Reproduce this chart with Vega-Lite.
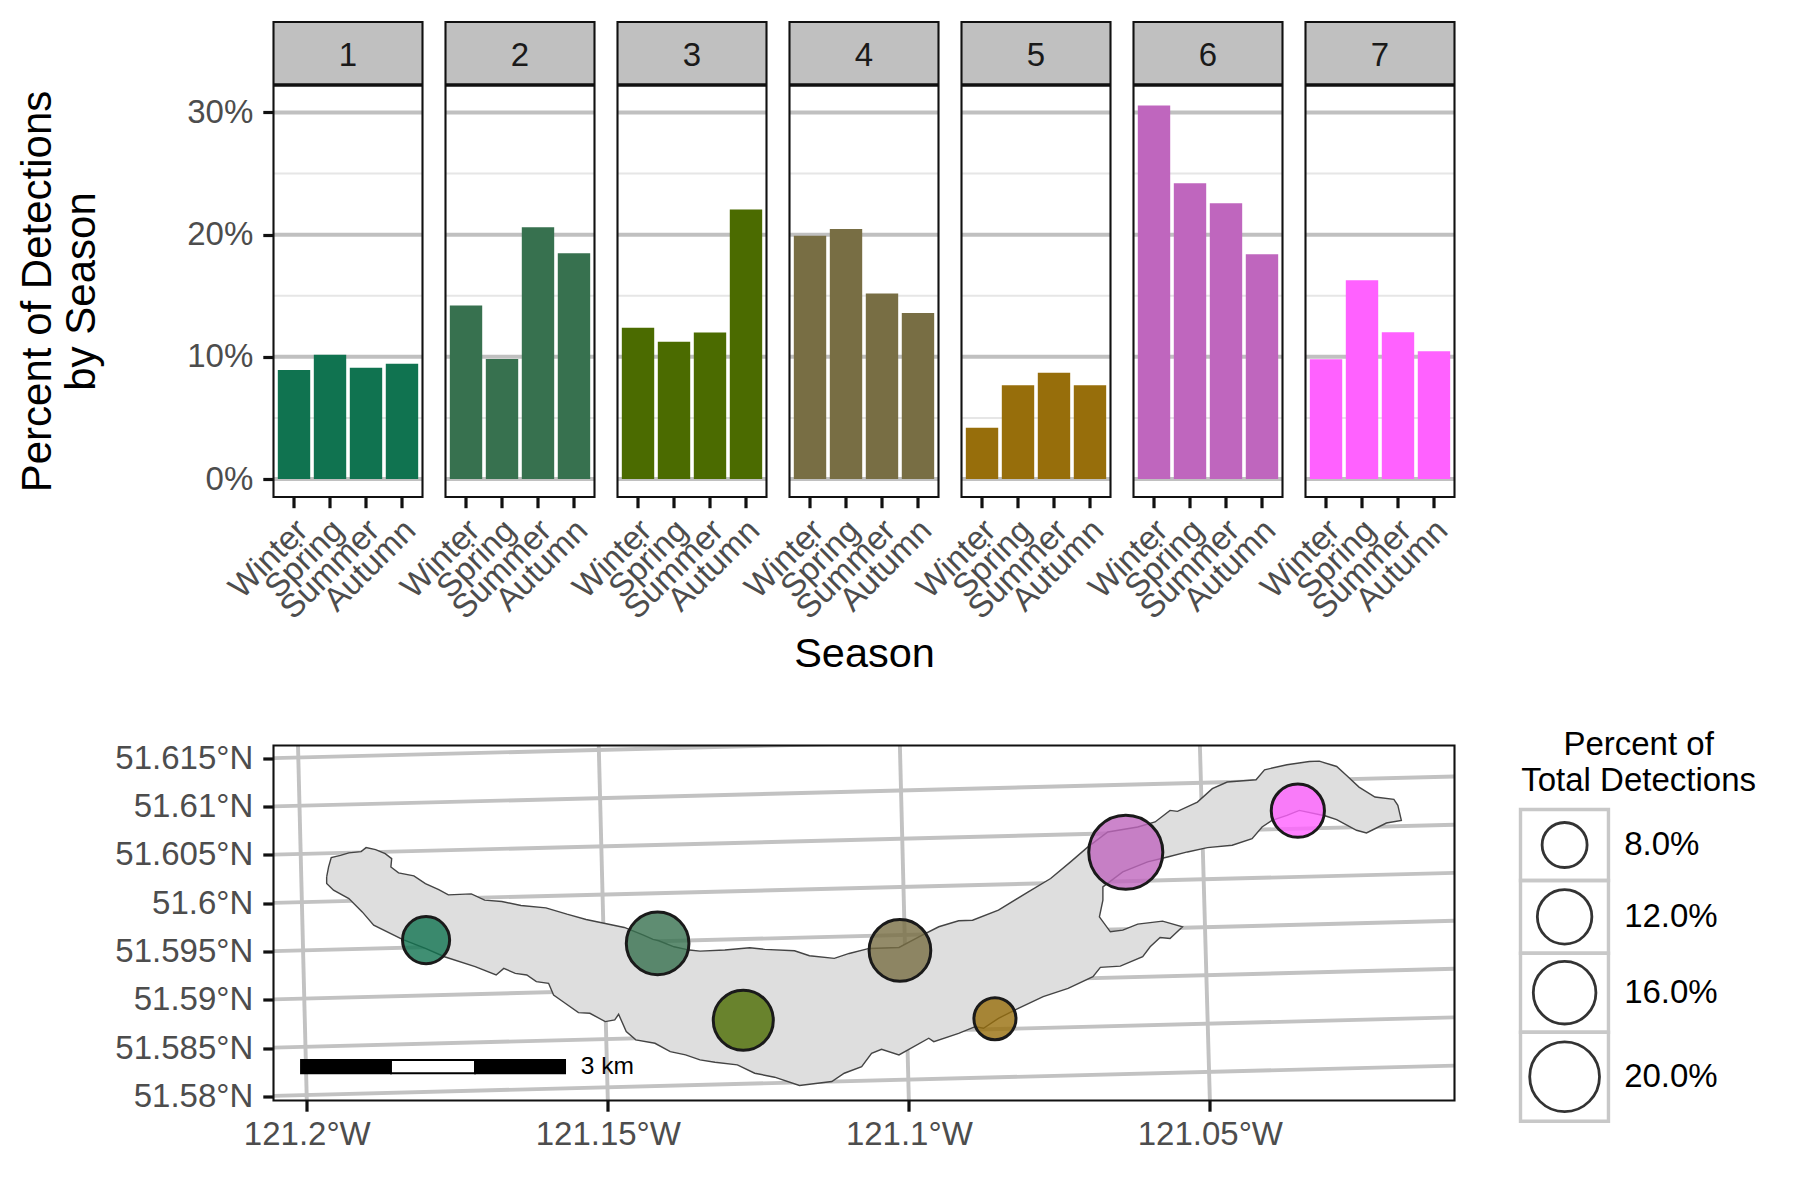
{"$schema":"https://vega.github.io/schema/vega-lite/v6.json","background":"white","padding":{"left":12.5,"top":20,"right":0,"bottom":0},"config":{"font":"Liberation Sans","view":{"stroke":null}},"datasets":{"bars":[{"panel":1,"season":"Winter","value":8.93},{"panel":1,"season":"Spring","value":10.18},{"panel":1,"season":"Summer","value":9.11},{"panel":1,"season":"Autumn","value":9.43},{"panel":2,"season":"Winter","value":14.2},{"panel":2,"season":"Spring","value":9.82},{"panel":2,"season":"Summer","value":20.6},{"panel":2,"season":"Autumn","value":18.47},{"panel":3,"season":"Winter","value":12.37},{"panel":3,"season":"Spring","value":11.24},{"panel":3,"season":"Summer","value":11.99},{"panel":3,"season":"Autumn","value":22.06},{"panel":4,"season":"Winter","value":19.9},{"panel":4,"season":"Spring","value":20.46},{"panel":4,"season":"Summer","value":15.19},{"panel":4,"season":"Autumn","value":13.59},{"panel":5,"season":"Winter","value":4.19},{"panel":5,"season":"Spring","value":7.67},{"panel":5,"season":"Summer","value":8.7},{"panel":5,"season":"Autumn","value":7.67},{"panel":6,"season":"Winter","value":30.57},{"panel":6,"season":"Spring","value":24.2},{"panel":6,"season":"Summer","value":22.56},{"panel":6,"season":"Autumn","value":18.39},{"panel":7,"season":"Winter","value":9.81},{"panel":7,"season":"Spring","value":16.27},{"panel":7,"season":"Summer","value":12.02},{"panel":7,"season":"Autumn","value":10.46}],"stations":[{"panel":1,"lon":-121.18019,"lat":51.59618,"pct":8.83},{"panel":2,"lon":-121.14173,"lat":51.59584,"pct":16.0},{"panel":3,"lon":-121.1275,"lat":51.58789,"pct":14.67},{"panel":4,"lon":-121.10148,"lat":51.59511,"pct":15.5},{"panel":5,"lon":-121.0857,"lat":51.58805,"pct":6.93},{"panel":6,"lon":-121.06397,"lat":51.60526,"pct":22.6},{"panel":7,"lon":-121.03539,"lat":51.60957,"pct":11.4}],"graticule":[{"line":"p615","lon":-121.20553,"lat":51.615},{"line":"p615","lon":-121.00937,"lat":51.6181},{"line":"p610","lon":-121.20553,"lat":51.61001},{"line":"p610","lon":-121.00937,"lat":51.61311},{"line":"p605","lon":-121.20553,"lat":51.60502},{"line":"p605","lon":-121.00937,"lat":51.60812},{"line":"p600","lon":-121.20553,"lat":51.60003},{"line":"p600","lon":-121.00937,"lat":51.60313},{"line":"p595","lon":-121.20553,"lat":51.59504},{"line":"p595","lon":-121.00937,"lat":51.59818},{"line":"p590","lon":-121.20553,"lat":51.59005},{"line":"p590","lon":-121.00937,"lat":51.59322},{"line":"p585","lon":-121.20553,"lat":51.58506},{"line":"p585","lon":-121.00937,"lat":51.58819},{"line":"p580","lon":-121.20553,"lat":51.58007},{"line":"p580","lon":-121.00937,"lat":51.5832},{"line":"m200","lon":-121.20146,"lat":51.61631},{"line":"m200","lon":-121.2,"lat":51.57959},{"line":"m150","lon":-121.15151,"lat":51.61631},{"line":"m150","lon":-121.15,"lat":51.57959},{"line":"m100","lon":-121.10149,"lat":51.61631},{"line":"m100","lon":-121.1,"lat":51.57959},{"line":"m050","lon":-121.05166,"lat":51.61631},{"line":"m050","lon":-121.05,"lat":51.57959}],"lake":[{"i":0,"lon":-121.1967,"lat":51.60272},{"i":1,"lon":-121.19638,"lat":51.60375},{"i":2,"lon":-121.19594,"lat":51.60471},{"i":3,"lon":-121.19441,"lat":51.60495},{"i":4,"lon":-121.19301,"lat":51.6052},{"i":5,"lon":-121.19098,"lat":51.60533},{"i":6,"lon":-121.19015,"lat":51.60575},{"i":7,"lon":-121.18857,"lat":51.60554},{"i":8,"lon":-121.18698,"lat":51.60513},{"i":9,"lon":-121.1859,"lat":51.60461},{"i":10,"lon":-121.18603,"lat":51.60375},{"i":11,"lon":-121.18476,"lat":51.60313},{"i":12,"lon":-121.18221,"lat":51.60282},{"i":13,"lon":-121.1803,"lat":51.60203},{"i":14,"lon":-121.17808,"lat":51.60141},{"i":15,"lon":-121.17649,"lat":51.60086},{"i":16,"lon":-121.17268,"lat":51.60096},{"i":17,"lon":-121.17045,"lat":51.60031},{"i":18,"lon":-121.1676,"lat":51.60017},{"i":19,"lon":-121.16442,"lat":51.59976},{"i":20,"lon":-121.16029,"lat":51.59952},{"i":21,"lon":-121.15679,"lat":51.59886},{"i":22,"lon":-121.15361,"lat":51.59831},{"i":23,"lon":-121.15043,"lat":51.5979},{"i":24,"lon":-121.14726,"lat":51.59749},{"i":25,"lon":-121.14408,"lat":51.5967},{"i":26,"lon":-121.14249,"lat":51.59625},{"i":27,"lon":-121.14153,"lat":51.59611},{"i":28,"lon":-121.139,"lat":51.59549},{"i":29,"lon":-121.13645,"lat":51.59515},{"i":30,"lon":-121.13469,"lat":51.59504},{"i":31,"lon":-121.13056,"lat":51.59515},{"i":32,"lon":-121.12643,"lat":51.59539},{"i":33,"lon":-121.12395,"lat":51.59522},{"i":34,"lon":-121.11899,"lat":51.59508},{"i":35,"lon":-121.11651,"lat":51.59456},{"i":36,"lon":-121.11238,"lat":51.59429},{"i":37,"lon":-121.10991,"lat":51.5948},{"i":38,"lon":-121.1066,"lat":51.59532},{"i":39,"lon":-121.10164,"lat":51.59542},{"i":40,"lon":-121.09834,"lat":51.59652},{"i":41,"lon":-121.09503,"lat":51.59756},{"i":42,"lon":-121.09173,"lat":51.59818},{"i":43,"lon":-121.08942,"lat":51.59824},{"i":44,"lon":-121.08512,"lat":51.59928},{"i":45,"lon":-121.08016,"lat":51.60117},{"i":46,"lon":-121.07645,"lat":51.60255},{"i":47,"lon":-121.07314,"lat":51.60427},{"i":48,"lon":-121.07025,"lat":51.60582},{"i":49,"lon":-121.06695,"lat":51.60736},{"i":50,"lon":-121.06199,"lat":51.60788},{"i":51,"lon":-121.0591,"lat":51.6084},{"i":52,"lon":-121.05662,"lat":51.6096},{"i":53,"lon":-121.05538,"lat":51.6095},{"i":54,"lon":-121.05207,"lat":51.61046},{"i":55,"lon":-121.0496,"lat":51.61184},{"i":56,"lon":-121.04712,"lat":51.61253},{"i":57,"lon":-121.04233,"lat":51.61277},{"i":58,"lon":-121.04092,"lat":51.6138},{"i":59,"lon":-121.0372,"lat":51.61432},{"i":60,"lon":-121.03349,"lat":51.61466},{"i":61,"lon":-121.03183,"lat":51.61469},{"i":62,"lon":-121.02894,"lat":51.61414},{"i":63,"lon":-121.02729,"lat":51.61321},{"i":64,"lon":-121.02523,"lat":51.61201},{"i":65,"lon":-121.02258,"lat":51.61098},{"i":66,"lon":-121.01944,"lat":51.61074},{"i":67,"lon":-121.01878,"lat":51.61012},{"i":68,"lon":-121.0182,"lat":51.60857},{"i":69,"lon":-121.02068,"lat":51.60829},{"i":70,"lon":-121.02399,"lat":51.60726},{"i":71,"lon":-121.02564,"lat":51.60754},{"i":72,"lon":-121.02894,"lat":51.60864},{"i":73,"lon":-121.03076,"lat":51.60902},{"i":74,"lon":-121.03514,"lat":51.6096},{"i":75,"lon":-121.0372,"lat":51.60908},{"i":76,"lon":-121.03968,"lat":51.60857},{"i":77,"lon":-121.04133,"lat":51.60788},{"i":78,"lon":-121.04299,"lat":51.60668},{"i":79,"lon":-121.04629,"lat":51.60599},{"i":80,"lon":-121.05042,"lat":51.60575},{"i":81,"lon":-121.05373,"lat":51.6053},{"i":82,"lon":-121.05703,"lat":51.60478},{"i":83,"lon":-121.06034,"lat":51.60427},{"i":84,"lon":-121.06447,"lat":51.60323},{"i":85,"lon":-121.06777,"lat":51.60169},{"i":86,"lon":-121.06777,"lat":51.60031},{"i":87,"lon":-121.06835,"lat":51.59859},{"i":88,"lon":-121.06653,"lat":51.59704},{"i":89,"lon":-121.06447,"lat":51.59721},{"i":90,"lon":-121.06199,"lat":51.59783},{"i":91,"lon":-121.05786,"lat":51.59814},{"i":92,"lon":-121.05455,"lat":51.59756},{"i":93,"lon":-121.05662,"lat":51.59635},{"i":94,"lon":-121.05827,"lat":51.59645},{"i":95,"lon":-121.05992,"lat":51.59549},{"i":96,"lon":-121.06116,"lat":51.59446},{"i":97,"lon":-121.06488,"lat":51.59349},{"i":98,"lon":-121.06819,"lat":51.59336},{"i":99,"lon":-121.06942,"lat":51.59239},{"i":100,"lon":-121.07355,"lat":51.59119},{"i":101,"lon":-121.07769,"lat":51.59033},{"i":102,"lon":-121.08182,"lat":51.58912},{"i":103,"lon":-121.08512,"lat":51.58809},{"i":104,"lon":-121.0876,"lat":51.58706},{"i":105,"lon":-121.089,"lat":51.58723},{"i":106,"lon":-121.09173,"lat":51.58654},{"i":107,"lon":-121.09586,"lat":51.58568},{"i":108,"lon":-121.09669,"lat":51.58603},{"i":109,"lon":-121.10164,"lat":51.58431},{"i":110,"lon":-121.10454,"lat":51.58489},{"i":111,"lon":-121.10619,"lat":51.58448},{"i":112,"lon":-121.10784,"lat":51.5831},{"i":113,"lon":-121.11073,"lat":51.58241},{"i":114,"lon":-121.1128,"lat":51.58155},{"i":115,"lon":-121.11817,"lat":51.58114},{"i":116,"lon":-121.1223,"lat":51.582},{"i":117,"lon":-121.1256,"lat":51.58241},{"i":118,"lon":-121.12849,"lat":51.58327},{"i":119,"lon":-121.13221,"lat":51.58355},{"i":120,"lon":-121.13469,"lat":51.58379},{"i":121,"lon":-121.13709,"lat":51.58431},{"i":122,"lon":-121.13963,"lat":51.58465},{"i":123,"lon":-121.14217,"lat":51.58551},{"i":124,"lon":-121.14535,"lat":51.58586},{"i":125,"lon":-121.14694,"lat":51.58672},{"i":126,"lon":-121.14821,"lat":51.58851},{"i":127,"lon":-121.14885,"lat":51.58792},{"i":128,"lon":-121.15043,"lat":51.58775},{"i":129,"lon":-121.15298,"lat":51.58861},{"i":130,"lon":-121.15488,"lat":51.58868},{"i":131,"lon":-121.15743,"lat":51.58981},{"i":132,"lon":-121.15901,"lat":51.5905},{"i":133,"lon":-121.15984,"lat":51.59171},{"i":134,"lon":-121.16187,"lat":51.59188},{"i":135,"lon":-121.16346,"lat":51.59257},{"i":136,"lon":-121.16537,"lat":51.59274},{"i":137,"lon":-121.16728,"lat":51.59325},{"i":138,"lon":-121.16855,"lat":51.59257},{"i":139,"lon":-121.17204,"lat":51.59343},{"i":140,"lon":-121.17713,"lat":51.59446},{"i":141,"lon":-121.1803,"lat":51.59532},{"i":142,"lon":-121.18412,"lat":51.59625},{"i":143,"lon":-121.18889,"lat":51.59773},{"i":144,"lon":-121.19079,"lat":51.5991},{"i":145,"lon":-121.19301,"lat":51.60048},{"i":146,"lon":-121.19556,"lat":51.60134},{"i":147,"lon":-121.1967,"lat":51.60203},{"i":148,"lon":-121.1967,"lat":51.60272}],"scalebar":[{"seg":"a","lon0":-121.20095,"lon1":-121.18602,"lat0":51.58242,"lat1":51.58379},{"seg":"b","lon0":-121.18602,"lon1":-121.17205,"lat0":51.58242,"lat1":51.58379},{"seg":"a","lon0":-121.17205,"lon1":-121.15711,"lat0":51.58242,"lat1":51.58379}],"legendRows":[{"pct":8,"lo":6,"hi":10,"label":"8.0%"},{"pct":12,"lo":10,"hi":14,"label":"12.0%"},{"pct":16,"lo":14,"hi":18,"label":"16.0%"},{"pct":20,"lo":18,"hi":22,"label":"20.0%"}]},"spacing":52.5,"vconcat":[{"data":{"name":"bars"},"facet":{"column":{"field":"panel","type":"ordinal","header":{"title":"Season","titleOrient":"bottom","titleFontSize":41.5,"titleFontWeight":"normal","titleColor":"#000","titlePadding":-2,"labels":false}}},"spacing":23,"bounds":"flush","spec":{"width":149,"height":475,"layer":[{"data":{"values":[{"g":5},{"g":15},{"g":25}]},"mark":{"type":"rule","color":"#e6e6e6","strokeWidth":2},"encoding":{"y":{"field":"g","type":"quantitative","scale":{"domain":[-1.47,37.4],"nice":false,"zero":false}}}},{"data":{"values":[{"g":0},{"g":10},{"g":20},{"g":30}]},"mark":{"type":"rule","color":"#c0c0c0","strokeWidth":4},"encoding":{"y":{"field":"g","type":"quantitative"}}},{"mark":{"type":"bar"},"encoding":{"x":{"field":"season","type":"ordinal","sort":["Winter","Spring","Summer","Autumn"],"scale":{"paddingInner":0.1,"paddingOuter":0.12},"axis":{"title":null,"labelAngle":-45,"labelAlign":"right","labelBaseline":"top","labelFontSize":33,"labelColor":"#4d4d4d","labelPadding":6,"labelOffset":-3,"tickSize":10.7,"tickWidth":3.2,"tickColor":"#111","domain":false,"grid":false}},"y":{"field":"value","type":"quantitative","axis":{"values":[0,10,20,30],"labelExpr":"datum.value + '%'","grid":false,"domain":false,"tickSize":10.7,"tickWidth":3.2,"tickColor":"#111","labelPadding":10,"labelFontSize":33,"labelColor":"#4d4d4d","title":["Percent of Detections","by Season"],"titleFontSize":42,"titleFontWeight":"normal","titleColor":"#000","titleLineHeight":44,"titlePadding":83,"titleY":269}},"color":{"field":"panel","type":"nominal","legend":null,"scale":{"domain":[1,2,3,4,5,6,7],"range":["#107350","#37714f","#4b6b00","#786e44","#976e0b","#bf66be","#ff61ff"]}}}},{"data":{"values":[{"strip":1}]},"mark":{"type":"rect","color":"#c0c0c0"},"encoding":{"y":{"datum":37.4},"y2":{"datum":32.24}}},{"data":{"values":[{"strip":1}]},"mark":{"type":"rule","color":"#111","strokeWidth":3.5},"encoding":{"y":{"datum":32.24}}},{"mark":{"type":"text","fontSize":33,"color":"#1a1a1a"},"encoding":{"text":{"aggregate":"min","field":"panel"},"y":{"datum":34.6}}},{"data":{"values":[{"frame":1}]},"mark":{"type":"rect","fill":null,"stroke":"#111","strokeWidth":2.1},"encoding":{"y":{"datum":37.4},"y2":{"datum":-1.47}}}]}},{"spacing":62,"hconcat":[{"width":1181,"height":355,"layer":[{"data":{"name":"graticule"},"mark":{"type":"line","color":"#c2c2c2","strokeWidth":3.9,"clip":true},"encoding":{"detail":{"field":"line"},"x":{"field":"lon","type":"quantitative","scale":{"domain":[-121.20553,-121.00937],"nice":false,"zero":false},"axis":{"values":[-121.2,-121.15,-121.1,-121.05],"labelExpr":"abs(datum.value) + '°W'","grid":false,"domain":false,"title":null,"tickSize":10.7,"tickWidth":3.2,"tickColor":"#111","labelPadding":7,"labelFontSize":33,"labelColor":"#4d4d4d"}},"y":{"field":"lat","type":"quantitative","scale":{"domain":[51.57959,51.61631],"nice":false,"zero":false},"axis":{"values":[51.58,51.585,51.59,51.595,51.6,51.605,51.61,51.615],"labelExpr":"datum.value + '°N'","grid":false,"domain":false,"title":" ","titleFontSize":41,"titlePadding":60,"tickSize":10.7,"tickWidth":3.2,"tickColor":"#111","labelPadding":10,"labelFontSize":33,"labelColor":"#4d4d4d"}}}},{"data":{"name":"lake"},"mark":{"type":"line","stroke":"#444","strokeWidth":1.4,"fill":"#dedede"},"encoding":{"order":{"field":"i","type":"quantitative"},"x":{"field":"lon","type":"quantitative"},"y":{"field":"lat","type":"quantitative"}}},{"data":{"name":"stations"},"mark":{"type":"circle","stroke":"#1a1a1a","strokeWidth":3,"fillOpacity":0.8,"strokeOpacity":1,"opacity":1},"encoding":{"x":{"field":"lon","type":"quantitative"},"y":{"field":"lat","type":"quantitative"},"size":{"field":"pct","type":"quantitative","legend":null,"scale":{"domain":[8,20],"range":[2024,4871]}},"color":{"field":"panel","type":"nominal","legend":null,"scale":{"domain":[1,2,3,4,5,6,7],"range":["#107350","#37714f","#4b6b00","#786e44","#976e0b","#bf66be","#ff61ff"]}}}},{"data":{"name":"scalebar"},"mark":{"type":"rect","stroke":"#000","strokeWidth":2},"encoding":{"x":{"field":"lon0","type":"quantitative"},"x2":{"field":"lon1"},"y":{"field":"lat0","type":"quantitative"},"y2":{"field":"lat1"},"fill":{"field":"seg","type":"nominal","legend":null,"scale":{"domain":["a","b"],"range":["#000","#fff"]}}}},{"data":{"values":[{"label":"3 km","lon":-121.1545,"lat":51.5831}]},"mark":{"type":"text","fontSize":24.5,"color":"#000","align":"left"},"encoding":{"text":{"field":"label"},"x":{"field":"lon","type":"quantitative"},"y":{"field":"lat","type":"quantitative"}}},{"data":{"values":[{"frame":1}]},"mark":{"type":"rect","fill":null,"stroke":"#111","strokeWidth":2.1},"encoding":{"x":{"datum":-121.20553},"x2":{"datum":-121.00937},"y":{"datum":51.61631},"y2":{"datum":51.57959}}}]},{"width":241,"height":376,"data":{"name":"legendRows"},"layer":[{"mark":{"type":"rect","fill":null,"stroke":"#c8c8c8","strokeWidth":3.4},"encoding":{"x":{"datum":0,"type":"quantitative","scale":{"domain":[0,1],"nice":false,"zero":false},"axis":null},"x2":{"datum":0.365},"y":{"field":"lo","type":"quantitative","scale":{"domain":[4,6,10,14,18,22],"range":[0,64,135,207.7,286.7,375.7]},"axis":null},"y2":{"field":"hi"}}},{"mark":{"type":"point","filled":false,"shape":"circle","stroke":"#333","strokeWidth":2.8,"opacity":1},"encoding":{"x":{"datum":0.183,"type":"quantitative"},"y":{"field":"pct","type":"quantitative"},"size":{"field":"pct","type":"quantitative","legend":null,"scale":{"domain":[8,20],"range":[2024,4871]}}}},{"mark":{"type":"text","fontSize":33,"color":"#000","align":"left"},"encoding":{"x":{"datum":0.43,"type":"quantitative"},"y":{"field":"pct","type":"quantitative"},"text":{"field":"label"}}},{"data":{"values":[{"heading":1}]},"mark":{"type":"text","fontSize":33,"color":"#000","align":"center","baseline":"middle","lineHeight":36,"text":["Percent of","Total Detections"]},"encoding":{"x":{"datum":0.49,"type":"quantitative"},"y":{"datum":3.97,"type":"quantitative"}}}]}]}]}
